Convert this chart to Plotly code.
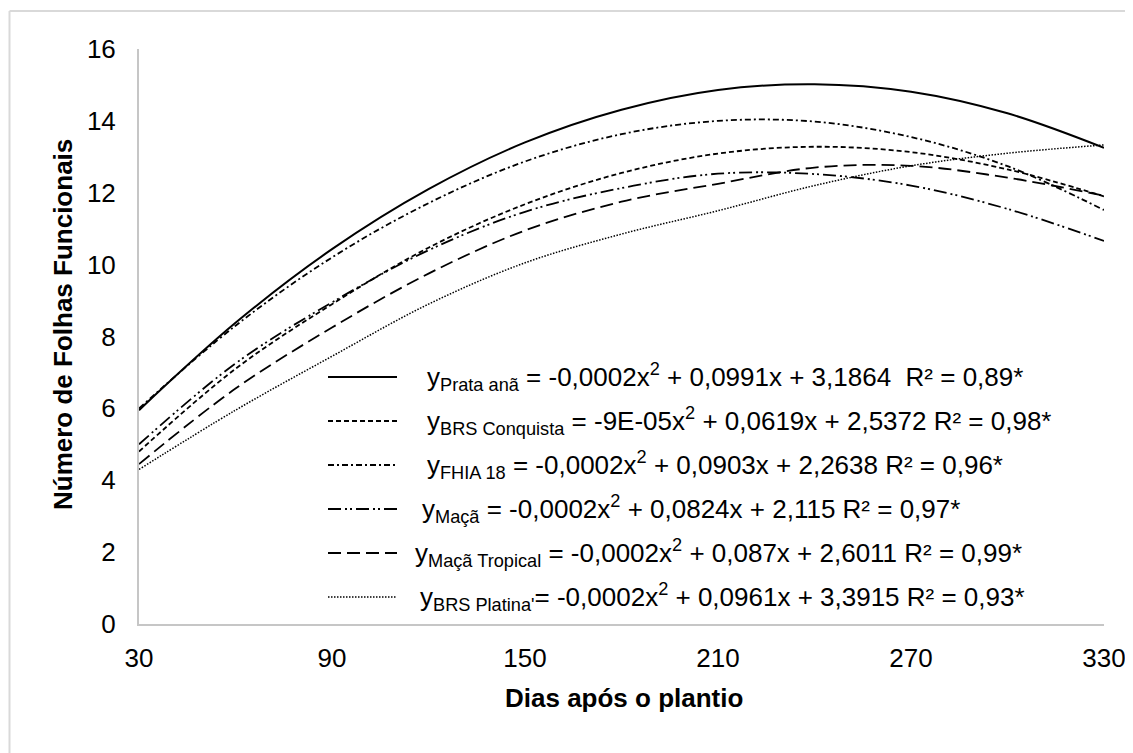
import plotly.graph_objects as go

# ---------------- data ----------------
x_days = [30, 60, 90, 120, 150, 180, 210, 240, 270, 300, 330]
prata_ana = [5.95, 8.38, 10.43, 12.10, 13.40, 14.31, 14.86, 15.02, 14.81, 14.21, 13.25]
brs_conquista = [4.80, 7.10, 8.90, 10.47, 11.68, 12.55, 13.09, 13.28, 13.13, 12.65, 11.90]
fhia_18 = [6.00, 8.30, 10.20, 11.71, 12.87, 13.63, 14.00, 13.98, 13.55, 12.74, 11.52]
maca = [5.00, 7.25, 8.95, 10.40, 11.47, 12.13, 12.53, 12.52, 12.20, 11.55, 10.66]
maca_tropical = [4.45, 6.55, 8.25, 9.75, 10.95, 11.75, 12.25, 12.70, 12.75, 12.42, 11.92]
brs_platina = [4.30, 5.95, 7.45, 8.90, 10.05, 10.85, 11.50, 12.20, 12.75, 13.10, 13.33]

x_ticks = [30, 90, 150, 210, 270, 330]
y_ticks = [0, 2, 4, 6, 8, 10, 12, 14, 16]

legend_texts = [
    "y<sub>Prata anã</sub> = -0,0002x<sup>2</sup> + 0,0991x + 3,1864\u00a0 R² = 0,89*",
    "y<sub>BRS Conquista</sub> = -9E-05x<sup>2</sup> + 0,0619x + 2,5372 R² = 0,98*",
    "y<sub>FHIA 18</sub> = -0,0002x<sup>2</sup> + 0,0903x + 2,2638 R² = 0,96*",
    "y<sub>Maçã</sub> = -0,0002x<sup>2</sup> + 0,0824x + 2,115 R² = 0,97*",
    "y<sub>Maçã Tropical</sub> = -0,0002x<sup>2</sup> + 0,087x + 2,6011 R² = 0,99*",
    "y<sub>BRS Platina'</sub>= -0,0002x<sup>2</sup> + 0,0961x + 3,3915 R² = 0,93*",
]

# ---------------- styles ----------------
series = [prata_ana, brs_conquista, fhia_18, maca, maca_tropical, brs_platina]
dashes = ["solid", "5px,3px", "6px,3px,2px,3px", "13px,4px,2px,3px,2px,4px", "13px,6px", "1.5px,1.5px"]
widths = [2, 1.8, 1.8, 1.8, 1.8, 1.5]

W, H = 1133, 753
OFF = 8  # page body margin offset
L, R, T, B = 139, 1104, 49, 624  # plot area in screen pixels


def px(xp):
    return (xp - L) / (R - L)


def py(yp):
    return (B - yp) / (B - T)


FONT = "Liberation Sans, Arial, sans-serif"

fig = go.Figure()
for ys, d, w in zip(series, dashes, widths):
    fig.add_trace(go.Scatter(
        x=x_days, y=ys, mode="lines",
        line=dict(color="black", width=w, dash=d, shape="spline", smoothing=1.0),
        showlegend=False, hoverinfo="skip",
    ))

shapes = []
annotations = []

# custom legend
row_y = [377, 421, 465, 509, 553, 597]
text_x = [425, 425, 425, 420, 413, 418]
for i, (txt, d, w) in enumerate(zip(legend_texts, dashes, widths)):
    shapes.append(dict(type="line", xref="paper", yref="paper",
                       x0=px(328), x1=px(397), y0=py(row_y[i]), y1=py(row_y[i]),
                       line=dict(color="black", width=w, dash=d)))
    annotations.append(dict(xref="paper", yref="paper", x=px(text_x[i]), y=py(row_y[i]),
                            xanchor="left", yanchor="middle", showarrow=False, text=txt,
                            font=dict(family=FONT, size=26, color="black")))

# outer chart border (left and top visible)
shapes.append(dict(type="line", xref="paper", yref="paper", x0=px(9.5), x1=px(1145),
                   y0=py(11), y1=py(11), line=dict(color="#d9d9d9", width=2)))
shapes.append(dict(type="line", xref="paper", yref="paper", x0=px(9.5), x1=px(9.5),
                   y0=py(11), y1=py(770), line=dict(color="#d9d9d9", width=2)))

# axis titles
annotations.append(dict(xref="paper", yref="paper", x=px(624), y=py(698), xanchor="center",
                        yanchor="middle", showarrow=False, text="<b>Dias após o plantio</b>",
                        font=dict(family=FONT, size=26, color="black")))
annotations.append(dict(xref="paper", yref="paper", x=px(63), y=py(325), xanchor="center",
                        yanchor="middle", showarrow=False, textangle=-90,
                        text="<b>Número de Folhas Funcionais</b>",
                        font=dict(family=FONT, size=26, color="black")))

fig.update_layout(
    width=W, height=H,
    margin=dict(l=L - OFF, r=W - (R - OFF), t=T - OFF, b=H - (B - OFF), pad=0),
    paper_bgcolor="white", plot_bgcolor="white",
    shapes=shapes, annotations=annotations,
    showlegend=False,
)
fig.update_xaxes(range=[30, 330], tickvals=x_ticks, ticktext=[str(v) for v in x_ticks],
                 showgrid=False, zeroline=False, showline=True, linecolor="#c6c6c6", linewidth=2,
                 ticks="outside", ticklen=10, tickcolor="rgba(0,0,0,0)",
                 tickfont=dict(family=FONT, size=26, color="black"))
fig.update_yaxes(range=[0, 16], tickvals=y_ticks, ticktext=[str(v) for v in y_ticks],
                 showgrid=False, zeroline=False, showline=True, linecolor="#c6c6c6", linewidth=2,
                 ticks="outside", ticklen=16, tickcolor="rgba(0,0,0,0)",
                 tickfont=dict(family=FONT, size=26, color="black"))

fig.write_html("out.html")
